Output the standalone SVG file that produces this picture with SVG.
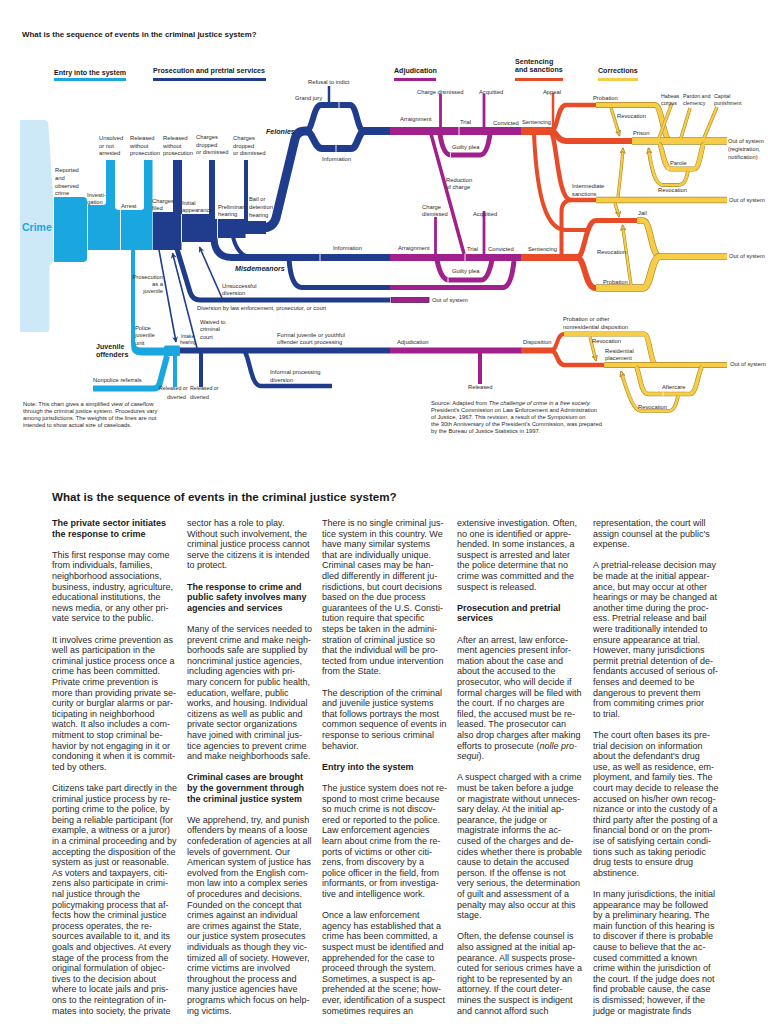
<svg xmlns="http://www.w3.org/2000/svg" width="768" height="1024" viewBox="0 0 768 1024">
<style>
text{font-family:"Liberation Sans",Arial,Helvetica,sans-serif;fill:#2a2a2a}
.l{font-size:5.8px}
.t{font-size:5.3px}
.sm{font-size:4.8px}
.h{font-size:7.1px;font-weight:bold;fill:#1a1a1a}
.bi{font-size:7.1px;font-weight:bold;font-style:italic;fill:#1a1a1a}
.body{font-size:9px}
.bh{font-weight:bold;fill:#1a1a1a}
.lb{fill:#cde9f7}
.cy{fill:#1aa6de}
.dbf{fill:#1f3d8c}
.s{fill:none;stroke-linecap:butt;stroke-linejoin:round}
.b{stroke:#1f3d8c}
.c{stroke:#1aa6de}
.p{stroke:#a0208c}
.o{stroke:#e84b27}
.yo{stroke:#a98a2b}
.y{stroke:#f7cd48}
.w{stroke:#ffffff;stroke-width:0.9}
</style>
<defs>
<marker id="ab" viewBox="0 0 10 10" refX="9" refY="5" markerWidth="6" markerHeight="6" markerUnits="userSpaceOnUse" orient="auto"><path d="M0,0 L10,5 L0,10 L3,5 Z" fill="#1f3d8c"/></marker>
<marker id="ay" viewBox="0 0 10 10" refX="9" refY="5" markerWidth="6" markerHeight="6" markerUnits="userSpaceOnUse" orient="auto"><path d="M0,0.5 L9.5,5 L0,9.5 L3,5 Z" fill="#f7cd48" stroke="#8a6d1e" stroke-width="1"/></marker>
</defs>

<text x="22" y="37" style="font-size:7.9px;font-weight:bold;fill:#1a1a1a">What is the sequence of events in the criminal justice system?</text>

<g id="stage-headers">
<text x="54" y="75" class="h">Entry into the system</text>
<rect x="54" y="78" width="72" height="3" fill="#1aa6de"/>
<text x="153" y="73" class="h">Prosecution and pretrial services</text>
<rect x="153" y="78" width="113" height="3" fill="#1f3d8c"/>
<text x="394" y="73" class="h">Adjudication</text>
<rect x="394" y="78" width="42" height="3" fill="#a0208c"/>
<text x="515" y="64" class="h">Sentencing</text>
<text x="515" y="72" class="h">and sanctions</text>
<rect x="515" y="78" width="48" height="3" fill="#e84b27"/>
<text x="598" y="73" class="h">Corrections</text>
<rect x="598" y="78" width="40" height="3" fill="#f7cd48"/>
</g>

<g id="crime">
<path class="lb" d="M20,120 H44 Q48,120 48.3,124 L53,197 V262 L49.5,266 V329 Q49.5,332 46.5,332 H20 Z"/>
<text x="22" y="231" style="font-size:10.5px;font-weight:bold;fill:#1aa6de">Crime</text>
</g>

<g id="entry">
<path class="cy" d="M54,197 H83 Q87,197 87,201 V258 Q87,262 83,262 H54 Z"/>
<path class="cy" d="M88,205 H103 Q106,205 106,202 V160 H115 V206 Q115,210 119,210 H141 Q144,210 144,207 V160 H152.5 V250 H88 Z"/>
<line class="w" x1="120.5" y1="210" x2="120.5" y2="250"/>
<text class="l" x="55" y="172">Reported</text><text class="l" x="55" y="180">and</text><text class="l" x="55" y="188">observed</text><text class="l" x="55" y="195">crime</text>
<text class="l" x="87" y="197">Investi-</text><text class="l" x="87" y="204">gation</text>
<text class="l" x="121" y="208">Arrest</text>
<text class="l" x="99" y="140">Unsolved</text><text class="l" x="99" y="148">or not</text><text class="l" x="99" y="155">arrested</text>
<text class="l" x="130" y="140">Released</text><text class="l" x="130" y="148">without</text><text class="l" x="130" y="155">prosecution</text>
</g>

<g id="pretrial">
<path class="dbf" d="M153,212 H173 V160 H182 V214 H209 V160 H215 V219 H244 V160 H248 V221 H266 V234 H245.5 V238 H217.5 V242 H181.5 V250 H153 Z"/>
<line class="w" x1="181.5" y1="214" x2="181.5" y2="242"/>
<line class="w" x1="217.5" y1="219" x2="217.5" y2="238"/>
<path class="s b" stroke-width="9" d="M262,228 Q273,228 276,218 L295,139 Q297,131 305,131 H312"/>
<path class="s b" stroke-width="6" d="M306,131 C313,131 313,105 321,105 H350 C357,105 357,131 364,131"/>
<path class="s b" stroke-width="7" d="M306,131 C313,131 314,148.5 322,148.5 H351 C358,148.5 358,131 365,131"/>
<path class="s b" stroke-width="8" d="M362,131 H390"/>
<path class="s b" stroke-width="2.5" d="M329,86 V103"/>
<line class="w" x1="339" y1="101.5" x2="339" y2="108.5"/>
<line class="w" x1="336" y1="144.5" x2="336" y2="152.5"/>
<path class="s b" stroke-width="7" d="M214,240 C215,252 221,257.5 232,257.5 H390"/>
<path class="s b" stroke-width="4" d="M233,237 C236,249 241,256 250,257"/>
<line class="w" x1="320" y1="254" x2="320" y2="261"/>
<path class="s b" stroke-width="5" d="M289,259 Q291,287.5 302,287.5 H390"/>
<path class="s b" stroke-width="5" d="M177,249 L190,292 Q192.5,300 200,300 H390"/>
<text class="l" x="163" y="140">Released</text><text class="l" x="163" y="148">without</text><text class="l" x="163" y="155">prosecution</text>
<text class="l" x="196" y="139">Charges</text><text class="l" x="196" y="147">dropped</text><text class="l" x="196" y="154">or dismissed</text>
<text class="l" x="233" y="140">Charges</text><text class="l" x="233" y="148">dropped</text><text class="l" x="233" y="155">or dismissed</text>
<text class="l" x="152" y="203">Charges</text><text class="l" x="152" y="210">filed</text>
<text class="l" x="182" y="205">Initial</text><text class="l" x="182" y="212">appearance</text>
<text class="l" x="218" y="209">Preliminary</text><text class="l" x="218" y="216">hearing</text>
<text class="l" x="249" y="201">Bail or</text><text class="l" x="249" y="209">detention</text><text class="l" x="249" y="217">hearing</text>
<text class="bi" x="266" y="134">Felonies</text>
<text class="l" x="308" y="84">Refusal to indict</text>
<text class="l" x="295" y="100">Grand jury</text>
<text class="l" x="322" y="161">Information</text>
<text class="bi" x="235" y="271">Misdemeanors</text>
<text class="l" x="333" y="250">Information</text>
<text class="l" x="222" y="288">Unsuccessful</text><text class="l" x="222" y="295">diversion</text>
<text class="l" x="197" y="310">Diversion by law enforcement, prosecutor, or court</text>
</g>

<g id="adjudication">
<path class="s p" stroke-width="8" d="M390,131 H521"/>
<path class="s p" stroke-width="2.8" d="M440.5,94 V128"/>
<path class="s p" stroke-width="2.8" d="M484,94 V128"/>
<line class="w" x1="459" y1="127" x2="459" y2="135"/>
<path class="s p" stroke-width="5" d="M440,134 Q443,155 451,155 H480 Q487,155 490,134"/>
<line class="w" x1="450.5" y1="152.5" x2="450.5" y2="157.5"/>
<path class="s p" stroke-width="3.5" d="M431,134 L464,254"/>
<path class="s p" stroke-width="7" d="M390,257.5 H521"/>
<path class="s p" stroke-width="2.8" d="M435.5,217 V255"/>
<path class="s p" stroke-width="2.8" d="M484,211 V255"/>
<line class="w" x1="465" y1="254" x2="465" y2="261"/>
<path class="s p" stroke-width="5" d="M437,260 Q441,280 449,280 H481 Q488,280 492,260"/>
<line class="w" x1="448" y1="277.5" x2="448" y2="282.5"/>
<path class="s p" stroke-width="5" d="M390,287.5 H503 Q511,287.5 514,261"/>
<rect x="391" y="297.5" width="38" height="5" fill="#a0208c" stroke="#4a0f45" stroke-width="0.7"/>
<text class="l" x="400" y="121">Arraignment</text>
<text class="l" x="417" y="94">Charge dismissed</text>
<text class="l" x="479" y="94">Acquitted</text>
<text class="l" x="460" y="124">Trial</text>
<text class="l" x="493" y="125">Convicted</text>
<text class="l" x="452" y="149">Guilty plea</text>
<text class="l" x="446" y="182">Reduction</text><text class="l" x="446" y="189">of charge</text>
<text class="l" x="422" y="209">Charge</text><text class="l" x="422" y="216">dismissed</text>
<text class="l" x="473" y="216">Acquitted</text>
<text class="l" x="398" y="250">Arraignment</text>
<text class="l" x="467" y="251">Trial</text>
<text class="l" x="488" y="251">Convicted</text>
<text class="l" x="452" y="273">Guilty plea</text>
<text class="l" x="432" y="302">Out of system</text>
</g>

<g id="sentencing">
<path class="s o" stroke-width="8" d="M521,131 H553"/>
<path class="s o" stroke-width="2.5" d="M553,93 V131"/>
<path class="s o" stroke-width="4.5" d="M551,131 C558,131 557,105 566,105 H597"/>
<path class="s o" stroke-width="6" d="M551,131 C557,131 556,141 566,141 H632"/>
<path class="s o" stroke-width="4.5" d="M552,134 C557,145 558,200 571,200 H597"/>
<path class="s o" stroke-width="4" d="M534,134 C537,200 547,230 566,230 H590"/>
<path class="s o" stroke-width="4" d="M561.5,257 V212 Q561.5,200 572,200"/>
<path class="s o" stroke-width="7" d="M521,257.5 H580"/>
<path class="s o" stroke-width="5" d="M577,257.5 C585,257.5 585,220.5 596,220.5 H637"/>
<path class="s o" stroke-width="6" d="M577,257.5 C585,257.5 585,288 595,288 H597"/>
<text class="l" x="522" y="124">Sentencing</text>
<text class="l" x="543" y="94">Appeal</text>
<text class="l" x="593" y="100">Probation</text>
<text class="l" x="633" y="135">Prison</text>
<text class="l" x="572" y="188">Intermediate</text><text class="l" x="572" y="196">sanctions</text>
<text class="l" x="638" y="215">Jail</text>
<text class="l" x="528" y="251">Sentencing</text>
<text class="l" x="603" y="284">Probation</text>
</g>

<g id="corrections">
<path class="s yo" stroke-width="5.8" d="M596,105 H655 C662,105 663,141 671,141"/>
<path class="s y" stroke-width="4.5" d="M596,105 H655 C662,105 663,141 671,141"/>
<path class="s yo" stroke-width="7.3" d="M632,141 H727"/>
<path class="s y" stroke-width="6" d="M632,141 H727"/>
<path class="s yo" stroke-width="3.4" d="M672,103 L659,138 M690,108 L681,138 M717,107 L704,138"/>
<path class="s y" stroke-width="2.2" d="M672,103 L659,138 M690,108 L681,138 M717,107 L704,138"/>
<path class="s yo" stroke-width="5.2" d="M659,144 C663,146 663,169 671,169 H694 C700,169 701,146 704,144"/>
<path class="s y" stroke-width="4" d="M659,144 C663,146 663,169 671,169 H694 C700,169 701,146 704,144"/>
<line x1="668" y1="167" x2="668" y2="171" stroke="#fff" stroke-width="0.8"/>
<path class="s yo" stroke-width="3.8" d="M688,171 C686,181 684,185 678,185 H663 C656,185 652,172 649,152"/>
<path class="s y" stroke-width="2.6" d="M688,171 C686,181 684,185 678,185 H663 C656,185 652,172 648.5,148" marker-end="url(#ay)"/>
<path class="s yo" stroke-width="3.2" d="M611,108 L618.5,132"/>
<path class="s y" stroke-width="2" d="M611,108 L619.5,136" marker-end="url(#ay)"/>
<path class="s yo" stroke-width="6.3" d="M596,200 H727"/>
<path class="s y" stroke-width="5" d="M596,200 H727"/>
<path class="s yo" stroke-width="3.2" d="M618,197 C620,180 622,163 622.7,152"/>
<path class="s y" stroke-width="2" d="M618,197 C620,180 622,162 623,148" marker-end="url(#ay)"/>
<path class="s yo" stroke-width="3.2" d="M615,203 C616,207 617,210 618,213"/>
<path class="s y" stroke-width="2" d="M615,203 C616,208 618,211 619,217" marker-end="url(#ay)"/>
<path class="s yo" stroke-width="6.3" d="M637,220.5 H643 C651,220.5 651,256.5 660,256.5 H727"/>
<path class="s y" stroke-width="5" d="M637,220.5 H643 C651,220.5 651,256.5 660,256.5 H727"/>
<path class="s yo" stroke-width="7.3" d="M596,288 H643 C651,288 651,256.5 660,256.5"/>
<path class="s y" stroke-width="6" d="M596,288 H643 C651,288 651,256.5 660,256.5"/>
<path class="s yo" stroke-width="3.2" d="M631,285 L623,229"/>
<path class="s y" stroke-width="2" d="M631,285 L622.5,225" marker-end="url(#ay)"/>
<text class="l" x="617" y="118">Revocation</text>
<text class="t" x="661" y="98">Habeas</text><text class="t" x="661" y="105">corpus</text>
<text class="t" x="683" y="98">Pardon and</text><text class="t" x="683" y="105">clemency</text>
<text class="t" x="714" y="98">Capital</text><text class="t" x="714" y="105">punishment</text>
<text class="l" x="728" y="143">Out of system</text><text class="l" x="728" y="151">(registration,</text><text class="l" x="728" y="159">notification)</text>
<text class="l" x="670" y="165">Parole</text>
<text class="l" x="658" y="192">Revocation</text>
<text class="l" x="729" y="202">Out of system</text>
<text class="l" x="729" y="258">Out of system</text>
<text class="l" x="597" y="254">Revocation</text>
</g>

<g id="juvenile">
<path class="cy" d="M131,250 H135 V342 Q135,347.5 141,347.5 H180 V355.5 H141 Q131,355.5 131,345 Z"/>
<rect class="cy" x="164" y="345.5" width="16" height="10.5" rx="1.5"/>
<path class="s c" stroke-width="6" d="M93,388.5 H154 Q158,388.5 159.5,384 L167,356"/>
<path class="s c" stroke-width="4" d="M175,355 V387"/>
<path class="s b" stroke-width="6" d="M180,350.5 H390"/>
<path class="s b" stroke-width="4.5" d="M245,352 C250,360 251,386 261,386 H332"/>
<path class="s b" stroke-width="4" d="M201,353 V387"/>
<path class="s p" stroke-width="6" d="M390,350.5 H522"/>
<path class="s p" stroke-width="4" d="M480,353 V384"/>
<path class="s o" stroke-width="6" d="M521,350.5 H553"/>
<path class="s o" stroke-width="4" d="M551,350.5 C558,350.5 556,334 564,334"/>
<path class="s o" stroke-width="4.5" d="M551,350.5 C558,350.5 556,365 565,365 H604"/>
<path class="s yo" stroke-width="5.2" d="M564,334 H644 C650,334 650,365 657,365"/>
<path class="s y" stroke-width="4" d="M564,334 H644 C650,334 650,365 657,365"/>
<path class="s yo" stroke-width="5.8" d="M604,365 H727"/>
<path class="s y" stroke-width="4.5" d="M604,365 H727"/>
<path class="s yo" stroke-width="3.2" d="M590,337 L595,357"/>
<path class="s y" stroke-width="2" d="M590,337 L596,361" marker-end="url(#ay)"/>
<path class="s yo" stroke-width="4.7" d="M636,367 C640,371 640,394 648,394 H690 C697,394 698,371 702,367"/>
<path class="s y" stroke-width="3.5" d="M636,367 C640,371 640,394 648,394 H690 C697,394 698,371 702,367"/>
<line x1="663" y1="392" x2="663" y2="396" stroke="#fff" stroke-width="0.8"/>
<path class="s yo" stroke-width="3.7" d="M678,396 C676,405 674,411 668,411 H641 C634,411 629,397 622,375"/>
<path class="s y" stroke-width="2.5" d="M678,396 C676,405 674,411 668,411 H641 C634,411 628,395 621,371" marker-end="url(#ay)"/>
<text class="l" x="135" y="330">Police</text><text class="l" x="135" y="337">juvenile</text><text class="l" x="135" y="345">unit</text>
<text class="sm" x="181" y="338">Intake</text><text class="sm" x="180" y="344">hearing</text>
<text class="h" x="96" y="349">Juvenile</text><text class="h" x="96" y="357">offenders</text>
<text class="l" x="93" y="382">Nonpolice referrals</text>
<text class="t" x="159" y="390">Released or</text><text class="t" x="167" y="399">diverted</text>
<text class="t" x="190" y="390">Released or</text><text class="t" x="190" y="399">diverted</text>
<text class="l" x="277" y="337">Formal juvenile or youthful</text><text class="l" x="277" y="344">offender court processing</text>
<text class="l" x="270" y="374">Informal processing</text><text class="l" x="270" y="382">diversion</text>
<text class="l" x="397" y="344">Adjudication</text>
<text class="l" x="468" y="389">Released</text>
<text class="l" x="523" y="344">Disposition</text>
<text class="l" x="563" y="321">Probation or other</text><text class="l" x="563" y="329">nonresidential disposition</text>
<text class="l" x="592" y="343">Revocation</text>
<text class="l" x="605" y="353">Residential</text><text class="l" x="605" y="360">placement</text>
<text class="l" x="730" y="366">Out of system</text>
<text class="l" x="662" y="389">Aftercare</text>
<text class="l" x="638" y="409">Revocation</text>
<text class="l" x="200" y="324">Waived to</text><text class="l" x="200" y="331">criminal</text><text class="l" x="200" y="339">court</text>
<text class="l" text-anchor="end" x="163" y="279">Prosecution</text><text class="l" text-anchor="end" x="163" y="286">as a</text><text class="l" text-anchor="end" x="163" y="293">juvenile</text>
</g>

<g id="connectors">
<path class="s b" stroke-width="1.6" d="M159,250 L176,342" marker-end="url(#ab)"/>
<path class="s b" stroke-width="1.6" d="M197,348 L172.5,253" marker-end="url(#ab)"/>
<path class="s b" stroke-width="1.6" d="M222,298 L199.5,247" marker-end="url(#ab)"/>
</g>

<g id="notes">
<text class="l" x="23" y="406">Note: This chart gives a simplified view of caseflow</text>
<text class="l" x="23" y="413">through the criminal justice system. Procedures vary</text>
<text class="l" x="23" y="420">among jurisdictions. The weights of the lines are not</text>
<text class="l" x="23" y="427">intended to show actual size of caseloads.</text>
<text class="l" x="431" y="405">Source: Adapted from <tspan font-style="italic">The challenge of crime in a free society.</tspan></text>
<text class="l" x="431" y="412">President's Commission on Law Enforcement and Administration</text>
<text class="l" x="431" y="419">of Justice, 1967. This revision, a result of the Symposium on</text>
<text class="l" x="431" y="426">the 30th Anniversary of the President's Commission, was prepared</text>
<text class="l" x="431" y="433">by the Bureau of Justice Statistics in 1997.</text>
</g>

<g id="article">
<text x="52" y="501" style="font-size:11.6px;font-weight:bold;fill:#1a1a1a">What is the sequence of events in the criminal justice system?</text>
<text class="body" y="526">
<tspan x="52" class="bh">The private sector initiates</tspan>
<tspan x="52" dy="10.6" class="bh">the response to crime</tspan>
<tspan x="52" dy="21.2">This first response may come</tspan>
<tspan x="52" dy="10.6">from individuals, families,</tspan>
<tspan x="52" dy="10.6">neighborhood associations,</tspan>
<tspan x="52" dy="10.6">business, industry, agriculture,</tspan>
<tspan x="52" dy="10.6">educational institutions, the</tspan>
<tspan x="52" dy="10.6">news media, or any other pri-</tspan>
<tspan x="52" dy="10.6">vate service to the public.</tspan>
<tspan x="52" dy="21.2">It involves crime prevention as</tspan>
<tspan x="52" dy="10.6">well as participation in the</tspan>
<tspan x="52" dy="10.6">criminal justice process once a</tspan>
<tspan x="52" dy="10.6">crime has been committed.</tspan>
<tspan x="52" dy="10.6">Private crime prevention is</tspan>
<tspan x="52" dy="10.6">more than providing private se-</tspan>
<tspan x="52" dy="10.6">curity or burglar alarms or par-</tspan>
<tspan x="52" dy="10.6">ticipating in neighborhood</tspan>
<tspan x="52" dy="10.6">watch.  It also includes a com-</tspan>
<tspan x="52" dy="10.6">mitment to stop criminal be-</tspan>
<tspan x="52" dy="10.6">havior by not engaging in it or</tspan>
<tspan x="52" dy="10.6">condoning it when it is commit-</tspan>
<tspan x="52" dy="10.6">ted by others.</tspan>
<tspan x="52" dy="21.2">Citizens take part directly in the</tspan>
<tspan x="52" dy="10.6">criminal justice process by re-</tspan>
<tspan x="52" dy="10.6">porting crime to the police, by</tspan>
<tspan x="52" dy="10.6">being a reliable participant (for</tspan>
<tspan x="52" dy="10.6">example, a witness or a juror)</tspan>
<tspan x="52" dy="10.6">in a criminal proceeding and by</tspan>
<tspan x="52" dy="10.6">accepting the disposition of the</tspan>
<tspan x="52" dy="10.6">system as just or reasonable.</tspan>
<tspan x="52" dy="10.6">As voters and taxpayers, citi-</tspan>
<tspan x="52" dy="10.6">zens also participate in crimi-</tspan>
<tspan x="52" dy="10.6">nal justice through the</tspan>
<tspan x="52" dy="10.6">policymaking process that af-</tspan>
<tspan x="52" dy="10.6">fects how the criminal justice</tspan>
<tspan x="52" dy="10.6">process operates, the re-</tspan>
<tspan x="52" dy="10.6">sources available to it, and its</tspan>
<tspan x="52" dy="10.6">goals and objectives.  At every</tspan>
<tspan x="52" dy="10.6">stage of the process from the</tspan>
<tspan x="52" dy="10.6">original formulation of objec-</tspan>
<tspan x="52" dy="10.6">tives to the decision about</tspan>
<tspan x="52" dy="10.6">where to locate jails and pris-</tspan>
<tspan x="52" dy="10.6">ons to the reintegration of in-</tspan>
<tspan x="52" dy="10.6">mates into society, the private</tspan>
</text>
<text class="body" y="526">
<tspan x="187">sector has a role to play.</tspan>
<tspan x="187" dy="10.6">Without such involvement, the</tspan>
<tspan x="187" dy="10.6">criminal justice process cannot</tspan>
<tspan x="187" dy="10.6">serve the citizens it is intended</tspan>
<tspan x="187" dy="10.6">to protect.</tspan>
<tspan x="187" dy="21.2" class="bh">The response to crime and</tspan>
<tspan x="187" dy="10.6" class="bh">public safety involves many</tspan>
<tspan x="187" dy="10.6" class="bh">agencies and services</tspan>
<tspan x="187" dy="21.2">Many of the services needed to</tspan>
<tspan x="187" dy="10.6">prevent crime and make neigh-</tspan>
<tspan x="187" dy="10.6">borhoods safe are supplied by</tspan>
<tspan x="187" dy="10.6">noncriminal justice agencies,</tspan>
<tspan x="187" dy="10.6">including agencies with pri-</tspan>
<tspan x="187" dy="10.6">mary concern for public health,</tspan>
<tspan x="187" dy="10.6">education, welfare, public</tspan>
<tspan x="187" dy="10.6">works, and housing.  Individual</tspan>
<tspan x="187" dy="10.6">citizens as well as public and</tspan>
<tspan x="187" dy="10.6">private sector organizations</tspan>
<tspan x="187" dy="10.6">have joined with criminal jus-</tspan>
<tspan x="187" dy="10.6">tice agencies to prevent crime</tspan>
<tspan x="187" dy="10.6">and make neighborhoods safe.</tspan>
<tspan x="187" dy="21.2" class="bh">Criminal cases are brought</tspan>
<tspan x="187" dy="10.6" class="bh">by the government through</tspan>
<tspan x="187" dy="10.6" class="bh">the criminal justice system</tspan>
<tspan x="187" dy="21.2">We apprehend, try, and punish</tspan>
<tspan x="187" dy="10.6">offenders by means of a loose</tspan>
<tspan x="187" dy="10.6">confederation of agencies at all</tspan>
<tspan x="187" dy="10.6">levels of government.  Our</tspan>
<tspan x="187" dy="10.6">American system of justice has</tspan>
<tspan x="187" dy="10.6">evolved from the English com-</tspan>
<tspan x="187" dy="10.6">mon law into a complex series</tspan>
<tspan x="187" dy="10.6">of procedures and decisions.</tspan>
<tspan x="187" dy="10.6">Founded on the concept that</tspan>
<tspan x="187" dy="10.6">crimes against an individual</tspan>
<tspan x="187" dy="10.6">are crimes against the State,</tspan>
<tspan x="187" dy="10.6">our justice system prosecutes</tspan>
<tspan x="187" dy="10.6">individuals as though they vic-</tspan>
<tspan x="187" dy="10.6">timized all of society. However,</tspan>
<tspan x="187" dy="10.6">crime victims are involved</tspan>
<tspan x="187" dy="10.6">throughout the process and</tspan>
<tspan x="187" dy="10.6">many justice agencies have</tspan>
<tspan x="187" dy="10.6">programs which focus on help-</tspan>
<tspan x="187" dy="10.6">ing victims.</tspan>
</text>
<text class="body" y="526">
<tspan x="322">There is no single criminal jus-</tspan>
<tspan x="322" dy="10.6">tice system in this country.  We</tspan>
<tspan x="322" dy="10.6">have many similar systems</tspan>
<tspan x="322" dy="10.6">that are individually unique.</tspan>
<tspan x="322" dy="10.6">Criminal cases may be han-</tspan>
<tspan x="322" dy="10.6">dled differently in different ju-</tspan>
<tspan x="322" dy="10.6">risdictions, but court decisions</tspan>
<tspan x="322" dy="10.6">based on the due process</tspan>
<tspan x="322" dy="10.6">guarantees of the U.S. Consti-</tspan>
<tspan x="322" dy="10.6">tution require that specific</tspan>
<tspan x="322" dy="10.6">steps be taken in the admini-</tspan>
<tspan x="322" dy="10.6">stration of criminal justice so</tspan>
<tspan x="322" dy="10.6">that the individual will be pro-</tspan>
<tspan x="322" dy="10.6">tected from undue intervention</tspan>
<tspan x="322" dy="10.6">from the State.</tspan>
<tspan x="322" dy="21.2">The description of the criminal</tspan>
<tspan x="322" dy="10.6">and juvenile justice systems</tspan>
<tspan x="322" dy="10.6">that follows portrays the most</tspan>
<tspan x="322" dy="10.6">common sequence of events in</tspan>
<tspan x="322" dy="10.6">response to serious criminal</tspan>
<tspan x="322" dy="10.6">behavior.</tspan>
<tspan x="322" dy="21.2" class="bh">Entry into the system</tspan>
<tspan x="322" dy="21.2">The justice system does not re-</tspan>
<tspan x="322" dy="10.6">spond to most crime because</tspan>
<tspan x="322" dy="10.6">so much crime is not discov-</tspan>
<tspan x="322" dy="10.6">ered or reported to the police.</tspan>
<tspan x="322" dy="10.6">Law enforcement agencies</tspan>
<tspan x="322" dy="10.6">learn about crime from the re-</tspan>
<tspan x="322" dy="10.6">ports of victims or other citi-</tspan>
<tspan x="322" dy="10.6">zens, from discovery by a</tspan>
<tspan x="322" dy="10.6">police officer in the field, from</tspan>
<tspan x="322" dy="10.6">informants, or from investiga-</tspan>
<tspan x="322" dy="10.6">tive and intelligence work.</tspan>
<tspan x="322" dy="21.2">Once a law enforcement</tspan>
<tspan x="322" dy="10.6">agency has established that a</tspan>
<tspan x="322" dy="10.6">crime has been committed, a</tspan>
<tspan x="322" dy="10.6">suspect must be identified and</tspan>
<tspan x="322" dy="10.6">apprehended for the case to</tspan>
<tspan x="322" dy="10.6">proceed through the system.</tspan>
<tspan x="322" dy="10.6">Sometimes, a suspect is ap-</tspan>
<tspan x="322" dy="10.6">prehended at the scene; how-</tspan>
<tspan x="322" dy="10.6">ever, identification of a suspect</tspan>
<tspan x="322" dy="10.6">sometimes requires an</tspan>
</text>
<text class="body" y="526">
<tspan x="457">extensive investigation.  Often,</tspan>
<tspan x="457" dy="10.6">no one is identified or appre-</tspan>
<tspan x="457" dy="10.6">hended.  In some instances, a</tspan>
<tspan x="457" dy="10.6">suspect is arrested and later</tspan>
<tspan x="457" dy="10.6">the police determine that no</tspan>
<tspan x="457" dy="10.6">crime was committed and the</tspan>
<tspan x="457" dy="10.6">suspect is released.</tspan>
<tspan x="457" dy="21.2" class="bh">Prosecution and pretrial</tspan>
<tspan x="457" dy="10.6" class="bh">services</tspan>
<tspan x="457" dy="21.2">After an arrest, law enforce-</tspan>
<tspan x="457" dy="10.6">ment agencies present infor-</tspan>
<tspan x="457" dy="10.6">mation about the case and</tspan>
<tspan x="457" dy="10.6">about the accused to the</tspan>
<tspan x="457" dy="10.6">prosecutor, who will decide if</tspan>
<tspan x="457" dy="10.6">formal charges will be filed with</tspan>
<tspan x="457" dy="10.6">the court.  If no charges are</tspan>
<tspan x="457" dy="10.6">filed, the accused must be re-</tspan>
<tspan x="457" dy="10.6">leased.  The prosecutor can</tspan>
<tspan x="457" dy="10.6">also drop charges after making</tspan>
<tspan x="457" dy="10.6">efforts to prosecute (<tspan font-style="italic">nolle pro-</tspan></tspan>
<tspan x="457" dy="10.6"><tspan font-style="italic">sequi</tspan>).</tspan>
<tspan x="457" dy="21.2">A suspect charged with a crime</tspan>
<tspan x="457" dy="10.6">must be taken before a judge</tspan>
<tspan x="457" dy="10.6">or magistrate without unneces-</tspan>
<tspan x="457" dy="10.6">sary delay.  At the initial ap-</tspan>
<tspan x="457" dy="10.6">pearance, the judge or</tspan>
<tspan x="457" dy="10.6">magistrate informs the ac-</tspan>
<tspan x="457" dy="10.6">cused of the charges and de-</tspan>
<tspan x="457" dy="10.6">cides whether there is probable</tspan>
<tspan x="457" dy="10.6">cause to detain the accused</tspan>
<tspan x="457" dy="10.6">person. If the offense is not</tspan>
<tspan x="457" dy="10.6">very serious, the determination</tspan>
<tspan x="457" dy="10.6">of guilt and assessment of a</tspan>
<tspan x="457" dy="10.6">penalty may also occur at this</tspan>
<tspan x="457" dy="10.6">stage.</tspan>
<tspan x="457" dy="21.2">Often, the defense counsel is</tspan>
<tspan x="457" dy="10.6">also assigned at the initial ap-</tspan>
<tspan x="457" dy="10.6">pearance.  All suspects prose-</tspan>
<tspan x="457" dy="10.6">cuted for serious crimes have a</tspan>
<tspan x="457" dy="10.6">right to be represented by an</tspan>
<tspan x="457" dy="10.6">attorney. If the court deter-</tspan>
<tspan x="457" dy="10.6">mines the suspect is indigent</tspan>
<tspan x="457" dy="10.6">and cannot afford such</tspan>
</text>
<text class="body" y="526">
<tspan x="593">representation, the court will</tspan>
<tspan x="593" dy="10.6">assign counsel at the public's</tspan>
<tspan x="593" dy="10.6">expense.</tspan>
<tspan x="593" dy="21.2">A pretrial-release decision may</tspan>
<tspan x="593" dy="10.6">be made at the initial appear-</tspan>
<tspan x="593" dy="10.6">ance, but may occur at other</tspan>
<tspan x="593" dy="10.6">hearings or may be changed at</tspan>
<tspan x="593" dy="10.6">another time during the proc-</tspan>
<tspan x="593" dy="10.6">ess. Pretrial release and bail</tspan>
<tspan x="593" dy="10.6">were traditionally intended to</tspan>
<tspan x="593" dy="10.6">ensure appearance at trial.</tspan>
<tspan x="593" dy="10.6">However, many jurisdictions</tspan>
<tspan x="593" dy="10.6">permit pretrial detention of de-</tspan>
<tspan x="593" dy="10.6">fendants accused of serious of-</tspan>
<tspan x="593" dy="10.6">fenses and deemed to be</tspan>
<tspan x="593" dy="10.6">dangerous to prevent them</tspan>
<tspan x="593" dy="10.6">from commiting crimes prior</tspan>
<tspan x="593" dy="10.6">to trial.</tspan>
<tspan x="593" dy="21.2">The court often bases its pre-</tspan>
<tspan x="593" dy="10.6">trial decision on information</tspan>
<tspan x="593" dy="10.6">about the defendant's drug</tspan>
<tspan x="593" dy="10.6">use, as well as residence, em-</tspan>
<tspan x="593" dy="10.6">ployment, and family ties.  The</tspan>
<tspan x="593" dy="10.6">court may decide to release the</tspan>
<tspan x="593" dy="10.6">accused on his/her own recog-</tspan>
<tspan x="593" dy="10.6">nizance or into the custody of a</tspan>
<tspan x="593" dy="10.6">third party after the posting of a</tspan>
<tspan x="593" dy="10.6">financial bond or on the prom-</tspan>
<tspan x="593" dy="10.6">ise of satisfying certain condi-</tspan>
<tspan x="593" dy="10.6">tions such as taking periodic</tspan>
<tspan x="593" dy="10.6">drug tests to ensure drug</tspan>
<tspan x="593" dy="10.6">abstinence.</tspan>
<tspan x="593" dy="21.2">In many jurisdictions, the initial</tspan>
<tspan x="593" dy="10.6">appearance may be followed</tspan>
<tspan x="593" dy="10.6">by a preliminary hearing.  The</tspan>
<tspan x="593" dy="10.6">main function of this hearing is</tspan>
<tspan x="593" dy="10.6">to discover if there is probable</tspan>
<tspan x="593" dy="10.6">cause to believe that the ac-</tspan>
<tspan x="593" dy="10.6">cused committed a known</tspan>
<tspan x="593" dy="10.6">crime within the jurisdiction of</tspan>
<tspan x="593" dy="10.6">the court.  If the judge does not</tspan>
<tspan x="593" dy="10.6">find probable cause, the case</tspan>
<tspan x="593" dy="10.6">is dismissed; however, if the</tspan>
<tspan x="593" dy="10.6">judge or magistrate finds</tspan>
</text>
</g>
</svg>
